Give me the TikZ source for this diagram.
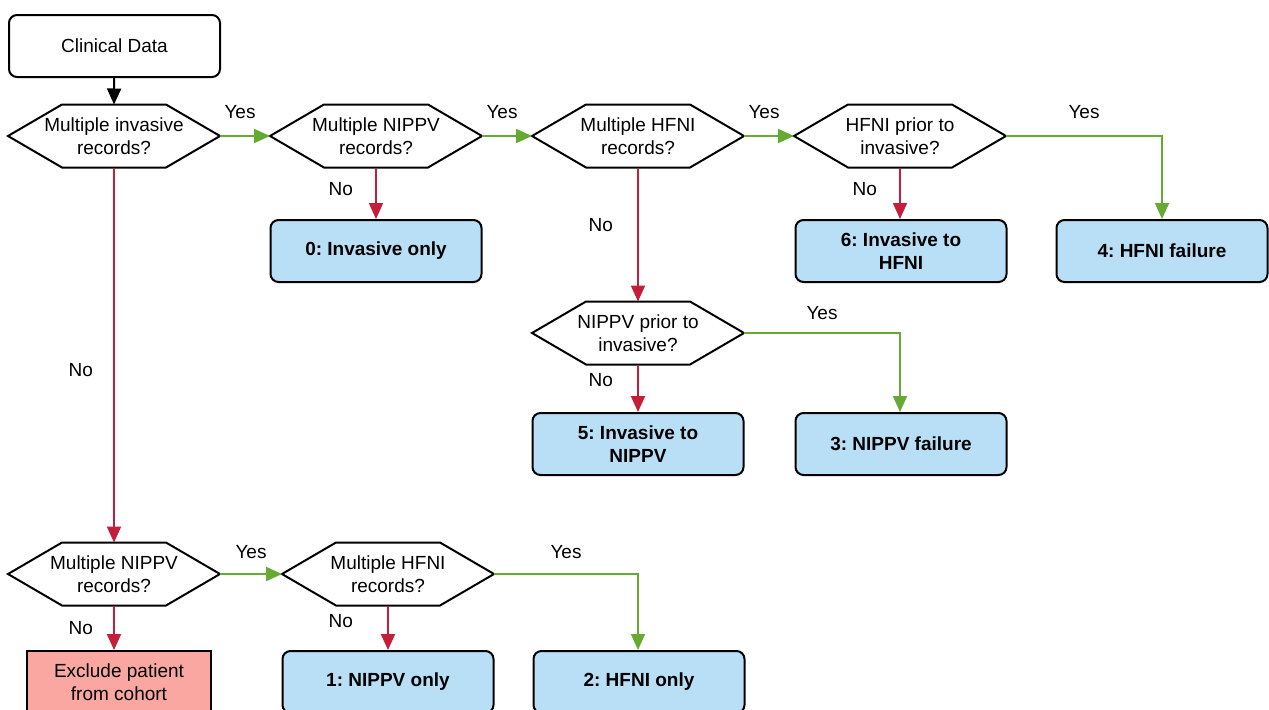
\documentclass[tikz,border=0pt]{standalone}
\usepackage{fontspec}
\setmainfont{Liberation Sans}
\usetikzlibrary{arrows.meta}
\frenchspacing

\definecolor{yesgreen}{HTML}{66AA33}
\definecolor{nored}{HTML}{C41E3A}
\definecolor{outblue}{HTML}{B9DFF6}
\definecolor{exclred}{HTML}{F9A7A0}

\begin{document}
\begin{tikzpicture}[x=0.5pt,y=-0.5pt,
    font=\fontsize{9.5}{11.5}\selectfont,
    startbox/.style={draw,line width=1pt,rounded corners=4pt,minimum width=105.5pt,minimum height=31pt},
    question/.style={rectangle,outer sep=0pt,inner sep=0pt,minimum width=106pt,minimum height=31.5pt,align=center},
    hexline/.style={draw=black,line width=1pt,line join=miter},
    outcome/.style={draw,line width=1pt,rounded corners=4pt,fill=outblue,minimum width=105.5pt,
      minimum height=31pt,align=center,font=\fontsize{9.5}{11.5}\selectfont\bfseries},
    exclude/.style={draw,line width=1pt,fill=exclred,minimum width=92pt,minimum height=31pt,align=center},
    lbl/.style={inner sep=0pt},
    go/.style={draw=black,line width=1pt,-{Triangle[length=8pt,width=7pt]}},
    yes/.style={draw=yesgreen,line width=1pt,-{Triangle[length=8pt,width=7pt]}},
    no/.style={draw=nored,line width=1pt,-{Triangle[length=8pt,width=7pt]}}]
  \useasboundingbox (0,0) rectangle (1269,709);

  % questions
  \node[startbox] (data) at (114.5,46) {Clinical Data};
  \node[question] (q1) at (114,136) {Multiple invasive\\records?};
  \node[question] (q2) at (376,136) {Multiple NIPPV\\records?};
  \node[question] (q3) at (638,136) {Multiple HFNI\\records?};
  \node[question] (q4) at (900,136) {HFNI prior to\\invasive?};
  \node[question] (q5) at (638,333) {NIPPV prior to\\invasive?};
  \node[question] (q6) at (114,574) {Multiple NIPPV\\records?};
  \node[question] (q7) at (388,574) {Multiple HFNI\\records?};
  \foreach \q in {q1,q2,q3,q4,q5,q6,q7}
  {
    \draw[hexline] (\q.west) -- ([xshift=27pt]\q.north west) -- ([xshift=-27pt]\q.north east)
      -- (\q.east) -- ([xshift=-27pt]\q.south east) -- ([xshift=27pt]\q.south west) -- cycle;
  }

  % outcomes
  \node[outcome] (o0) at (376,251) {0: Invasive only};
  \node[outcome] (o6) at (901,251) {6: Invasive to\\HFNI};
  \node[outcome] (o4) at (1162,251) {4: HFNI failure};
  \node[outcome] (o5) at (638,444) {5: Invasive to\\NIPPV};
  \node[outcome] (o3) at (901,444) {3: NIPPV failure};
  \node[outcome] (o1) at (388,682) {1: NIPPV only};
  \node[outcome] (o2) at (639,682) {2: HFNI only};
  \node[exclude] (ex) at (119,682) {Exclude patient\\from cohort};

  % connectors
  \path[go] (data) -- (q1.north);
  \path[yes] (q1.east) -- node[lbl,above=8pt,pos=0.4] {Yes} (q2.west);
  \path[yes] (q2.east) -- node[lbl,above=8pt,pos=0.4] {Yes} (q3.west);
  \path[yes] (q3.east) -- node[lbl,above=8pt,pos=0.4] {Yes} (q4.west);
  \path[yes] (q4.east) -| node[lbl,above=8pt,pos=0.25] {Yes} (o4.north);
  \path[yes] (q5.east) -| node[lbl,above=6pt,pos=0.25] {Yes} (q4.south |- o3.north);
  \path[yes] (q6.east) -- node[lbl,above=7pt,pos=0.5] {Yes} (q7.west);
  \path[yes] (q7.east) -| node[lbl,above=7pt,pos=0.25] {Yes} (q5.south |- o2.north);
  \path[no] (q1.south) -- node[lbl,left=10pt,pos=0.54] {No} (q6.north);
  \path[no] (q2.south) -- node[lbl,left=11pt,pos=0.42] {No} (o0.north);
  \path[no] (q3.south) -- node[lbl,left=12pt,pos=0.43] {No} (q5.north);
  \path[no] (q4.south) -- node[lbl,left=11pt,pos=0.42] {No} (q4.south |- o6.north);
  \path[no] (q5.south) -- node[lbl,left=12pt,pos=0.33] {No} (o5.north);
  \path[no] (q6.south) -- node[lbl,left=10pt,pos=0.5] {No} (q6.south |- ex.north);
  \path[no] (q7.south) -- node[lbl,left=17pt,pos=0.35] {No} (o1.north);
\end{tikzpicture}
\end{document}
